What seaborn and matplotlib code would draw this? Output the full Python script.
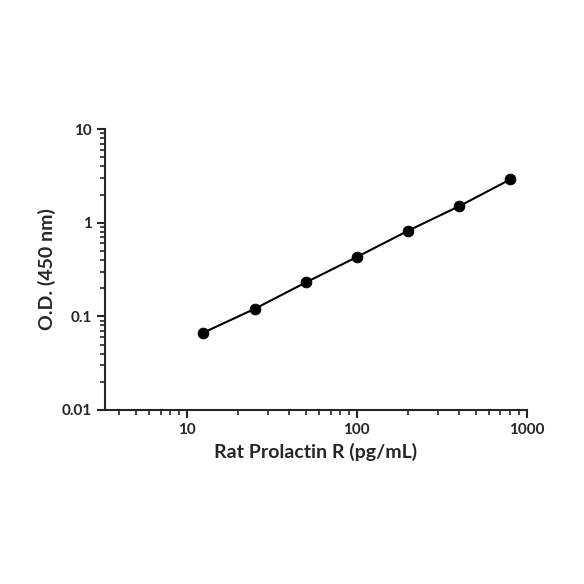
import matplotlib
matplotlib.use("Agg")
import matplotlib.pyplot as plt
import seaborn as sns
import pandas as pd
from matplotlib.ticker import LogLocator, NullFormatter, FixedLocator, FixedFormatter

conc = [12.5, 25, 50, 100, 200, 400, 800]
od = [0.067, 0.12, 0.23, 0.43, 0.82, 1.5, 2.9]
xticks = [10, 100, 1000]
xlabels = ["10", "100", "1000"]
yticks = [0.01, 0.1, 1, 10]
ylabels = ["0.01", "0.1", "1", "10"]

sns.set_style("ticks")
plt.rcParams['font.family'] = ['Lato', 'DejaVu Sans']
df = pd.DataFrame({"x": conc, "y": od})
fig = plt.figure(figsize=(5.84, 5.84), dpi=100)
ax = fig.add_axes([0.18, 0.298, 0.722, 0.481])
sns.lineplot(data=df, x="x", y="y", color="black", lw=1.5, ax=ax)
sns.scatterplot(data=df, x="x", y="y", color="black", s=60, edgecolor="black", zorder=3, ax=ax)
ax.set_xscale("log"); ax.set_yscale("log")
ax.set_xlim(3.3, 1000); ax.set_ylim(0.01, 10)
ax.xaxis.set_major_locator(FixedLocator(xticks))
ax.xaxis.set_major_formatter(FixedFormatter(xlabels))
ax.xaxis.set_minor_locator(LogLocator(base=10, subs=range(2, 10)))
ax.xaxis.set_minor_formatter(NullFormatter())
ax.yaxis.set_major_locator(FixedLocator(yticks))
ax.yaxis.set_major_formatter(FixedFormatter(ylabels))
ax.yaxis.set_minor_locator(LogLocator(base=10, subs=range(2, 10)))
ax.yaxis.set_minor_formatter(NullFormatter())
for s in ["top", "right"]:
    ax.spines[s].set_visible(False)
for s in ["left", "bottom"]:
    ax.spines[s].set_linewidth(1.5)
ax.tick_params(which="major", length=6, width=1.5, labelsize=11, direction="out")
ax.tick_params(which="minor", length=3.5, width=1.2, direction="out")
for t in ax.get_xticklabels() + ax.get_yticklabels():
    t.set_fontweight("bold")
ax.set_xlabel("Rat Prolactin R (pg/mL)", fontsize=14, fontweight="bold")
ax.set_ylabel("O.D. (450 nm)", fontsize=14, fontweight="bold")
fig.savefig("out.png", dpi=100, facecolor="white")
